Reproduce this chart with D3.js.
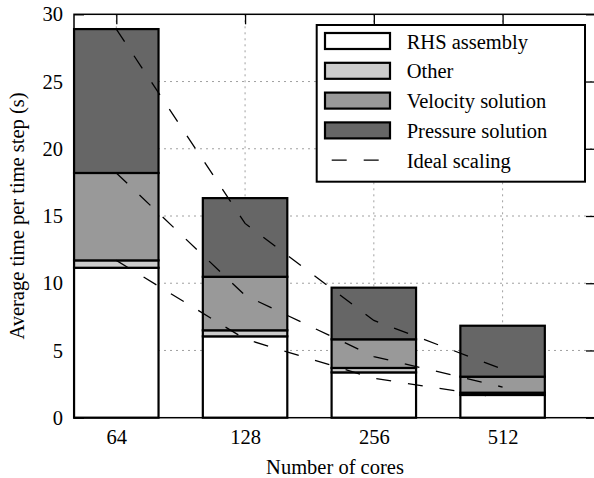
<!DOCTYPE html>
<html>
<head>
<meta charset="utf-8">
<script src="https://cdn.jsdelivr.net/npm/d3@7"></script>
<style>
	html, body { margin: 0; padding: 0; background: #fff; }
	svg { display: block; overflow: hidden; }
</style>
</head>
<body>
<svg id="chart" width="594" height="478"></svg>
<script>
// Values
const cores = ["64", "128", "256", "512"];
const rhsAssembly = [11.15, 6.05, 3.37, 1.69];
const other = [0.55, 0.45, 0.33, 0.17];
const velocitySolution = [6.5, 3.98, 2.13, 1.19];
const pressureSolution = [10.7, 5.85, 3.84, 3.79];
// Ideal scaling curves (start at each stacked top for 64 cores)
const idealTotal = [28.9, 14.45, 7.23, 3.61];
const idealVelocity = [18.2, 9.1, 4.55, 2.28];
const idealOther = [11.7, 5.85, 2.93, 1.46];
const yTicks = [0, 5, 10, 15, 20, 25, 30];

const seriesNames = ["RHS assembly", "Other", "Velocity solution", "Pressure solution"];
const seriesFill = ["#ffffff", "#cccccc", "#999999", "#666666"];

const FONT = "'Liberation Serif', 'Times New Roman', serif";
const FS = 20.5;

const margin = { left: 74, top: 14.3, right: 596, bottom: 417.7 };
const svg = d3.select("#chart");

const x = d3.scaleLinear().domain([-0.3285, 3.7254]).range([margin.left, margin.right]);
const y = d3.scaleLinear().domain([0, 30]).range([margin.bottom, margin.top]);
const barW = x(0.656) - x(0);

const rows = cores.map((c, i) => ({
	i: i,
	"RHS assembly": rhsAssembly[i],
	"Other": other[i],
	"Velocity solution": velocitySolution[i],
	"Pressure solution": pressureSolution[i],
}));
const stacked = d3.stack().keys(seriesNames)(rows);

// grid
const grid = svg.append("g").attr("stroke", "#a0a0a0").attr("stroke-width", 1).attr("stroke-dasharray", "2,4");
grid.selectAll(".hg").data(yTicks.filter((t) => t > 0 && t < 30)).enter().append("line")
	.attr("x1", margin.left).attr("x2", margin.right)
	.attr("y1", (d) => y(d)).attr("y2", (d) => y(d));
grid.selectAll(".vg").data(d3.range(cores.length)).enter().append("line")
	.attr("x1", (d) => x(d)).attr("x2", (d) => x(d))
	.attr("y1", margin.top).attr("y2", margin.bottom);

// axes with inward ticks
const fmtCore = (i) => cores[i];
const axisText = (g) => g.selectAll("text").style("font-size", FS + "px").attr("fill", "#000")
	.style("font-family", FONT);
const axisStyle = (g) => {
	g.select(".domain").remove();
	g.selectAll("line").attr("stroke", "#000").attr("stroke-width", 1.3);
};

svg.append("g").attr("transform", `translate(${margin.left},0)`)
	.call(d3.axisLeft(y).tickValues(yTicks).tickSize(-10).tickPadding(11))
	.call(axisStyle).call(axisText);
svg.append("g").attr("transform", `translate(${margin.right},0)`)
	.call(d3.axisRight(y).tickValues(yTicks).tickSize(-10).tickFormat(""))
	.call(axisStyle);
svg.append("g").attr("transform", `translate(0,${margin.bottom})`)
	.call(d3.axisBottom(x).tickValues(d3.range(cores.length)).tickFormat(fmtCore).tickSize(-10).tickPadding(12))
	.call(axisStyle).call(axisText);
svg.append("g").attr("transform", `translate(0,${margin.top})`)
	.call(d3.axisTop(x).tickValues(d3.range(cores.length)).tickFormat("").tickSize(-10))
	.call(axisStyle);

// bars
svg.append("g").selectAll("g").data(stacked).enter().append("g")
	.attr("fill", (d, k) => seriesFill[k])
	.selectAll("rect").data((d) => d).enter().append("rect")
	.attr("x", (d) => x(d.data.i) - barW / 2)
	.attr("width", barW)
	.attr("y", (d) => y(d[1]))
	.attr("height", (d) => y(d[0]) - y(d[1]))
	.attr("stroke", "#000").attr("stroke-width", 2.2);

// ideal scaling lines
const line = d3.line().x((d, i) => x(i)).y((d) => y(d));
svg.append("g").selectAll("path").data([idealTotal, idealVelocity, idealOther]).enter().append("path")
	.attr("d", line).attr("fill", "none").attr("stroke", "#000")
	.attr("stroke-width", 1.3).attr("stroke-dasharray", "15,17");

// frame
svg.append("rect").attr("x", margin.left).attr("y", margin.top)
	.attr("width", margin.right - margin.left).attr("height", margin.bottom - margin.top)
	.attr("fill", "none").attr("stroke", "#000").attr("stroke-width", 1.5);

// axis titles
svg.append("text").attr("x", (margin.left + margin.right) / 2).attr("y", 474)
	.attr("text-anchor", "middle").style("font-size", FS + "px").style("font-family", FONT)
	.text("Number of cores");
svg.append("text").attr("transform", `translate(23.5,${(margin.top + margin.bottom) / 2}) rotate(-90)`)
	.attr("text-anchor", "middle").style("font-size", FS + "px").style("font-family", FONT)
	.text("Average time per time step (s)");

// legend
const lg = svg.append("g");
lg.append("rect").attr("x", 316.7).attr("y", 25).attr("width", 268.3).attr("height", 156.7)
	.attr("fill", "#fff").attr("stroke", "#000").attr("stroke-width", 2);
const legendItems = seriesNames.concat(["Ideal scaling"]);
const item = lg.selectAll(".item").data(legendItems).enter().append("g")
	.attr("transform", (d, k) => `translate(325,${41 + 29.8 * k})`);
item.filter((d, k) => k < 4).append("rect")
	.attr("x", 0).attr("y", -8).attr("width", 65).attr("height", 16)
	.attr("fill", (d, k) => seriesFill[k]).attr("stroke", "#000").attr("stroke-width", 2.2);
item.filter((d, k) => k === 4).append("line")
	.attr("x1", 0).attr("x2", 65).attr("y1", 0).attr("y2", 0)
	.attr("stroke", "#000").attr("stroke-width", 1.3)
	.attr("stroke-dasharray", "15,17").attr("stroke-dashoffset", 25.3);
item.append("text").attr("x", 81.7).attr("y", 7.5)
	.style("font-size", FS + "px").style("font-family", FONT).text((d) => d);
</script>
</body>
</html>
